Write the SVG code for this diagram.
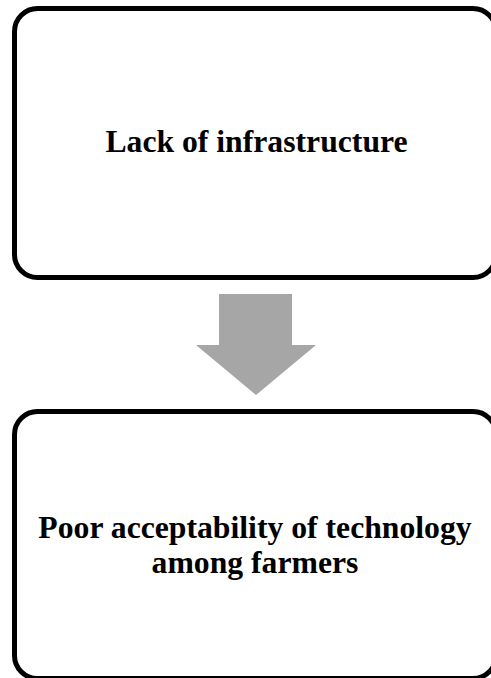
<svg xmlns="http://www.w3.org/2000/svg" width="491" height="678" viewBox="0 0 491 678">
<style>
.box{fill:#fff;stroke:#000;stroke-width:5}
.lbl{font-family:"Liberation Serif","Times New Roman",serif;font-weight:bold;font-size:31.7px;fill:#000;text-anchor:middle}
.arrow{fill:#a6a6a6}
</style>
<rect width="491" height="678" fill="#fff"/>
<g id="node-infrastructure">
<rect class="box" x="14.5" y="8.5" width="481.5" height="269" rx="23" ry="23"/>
<text class="lbl" x="256.5" y="152">Lack of infrastructure</text>
</g>
<g id="node-acceptability">
<rect class="box" x="14.5" y="411.5" width="481.5" height="267" rx="23" ry="23"/>
<text class="lbl" x="255" y="538">Poor acceptability of technology</text>
<text class="lbl" x="255" y="573">among farmers</text>
</g>
<g id="connectors">
<polygon class="arrow" points="219,294 292,294 292,345 316,345 256,395 196,345 219,345"/>
</g>
</svg>
